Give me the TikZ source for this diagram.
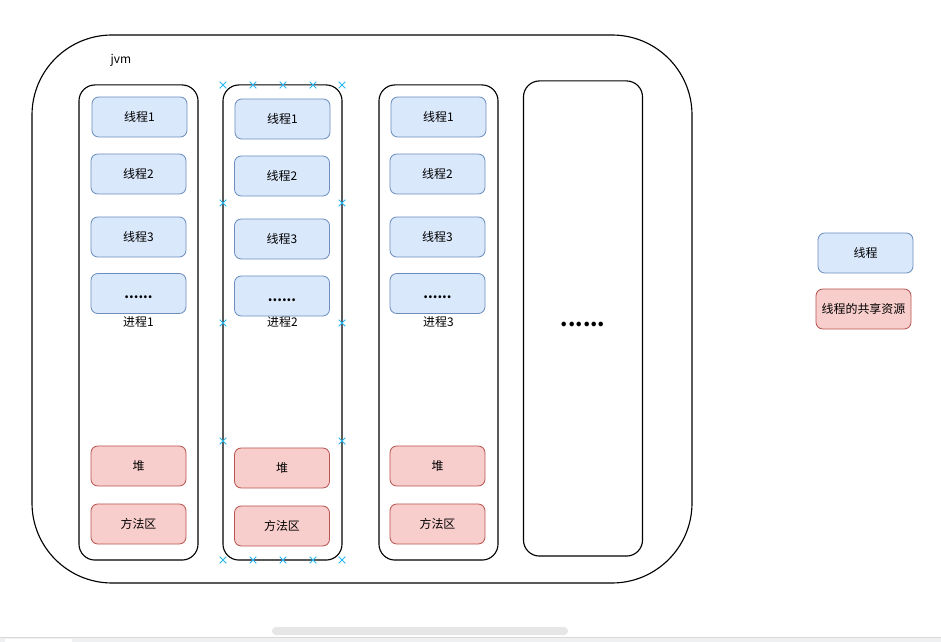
\documentclass[tikz,border=0pt]{standalone}
\usepackage{fontspec}
\setmainfont{Noto Sans CJK SC}
\usetikzlibrary{shapes.misc}
\definecolor{threadfill}{HTML}{DAE8FC}
\definecolor{threaddraw}{HTML}{6C8EBF}
\definecolor{sharedfill}{HTML}{F8CECC}
\definecolor{shareddraw}{HTML}{B85450}
\definecolor{handleblue}{HTML}{29B6F2}
\definecolor{barfill}{HTML}{E6E6E6}
\definecolor{stripfill}{HTML}{EEF0F1}
\newcommand{\moredots}{\vphantom{线}......}
\tikzset{
  label text/.style={font=\fontsize{8.5}{10}\selectfont},
  thread/.style={label text, draw=threaddraw, fill=threadfill, line width=0.6pt,
    rounded corners=0.17cm, minimum width=2.375cm, minimum height=1cm, inner sep=0pt},
  shared/.style={thread, draw=shareddraw, fill=sharedfill},
  proc/.style={label text, draw=black, line width=0.8pt, rounded corners=0.4cm,
    minimum width=2.975cm, minimum height=11.875cm, inner sep=0pt},
  handle/.style={cross out, draw=handleblue, line width=0.7pt, minimum size=0.14cm, inner sep=0pt},
  dots/.style={font=\fontsize{9.5}{10}\selectfont\bfseries},
}
\begin{document}
\begin{tikzpicture}[x=0.025cm, y=-0.025cm]
    \useasboundingbox (0,0) rectangle (941,642);
    % jvm
    \draw[black, line width=0.8pt, rounded corners=2cm] (32,35) rectangle (692,583);
    \node[label text] (jvm) at (121,60) {jvm};
    % process 1
    \node[proc] (p1) at (138.5,322.5) {进程1};
    \node[thread] (p1t1) at (139.5,117) {线程1};
    \node[thread] (p1t2) at (138.5,174) {线程2};
    \node[thread] (p1t3) at (138.5,237) {线程3};
    \node[thread, dots] (p1t4) at (138.5,293.5) {\moredots};
    \node[shared] (p1heap) at (138.5,466) {堆};
    \node[shared] (p1meth) at (138.5,524) {方法区};
    % process 2
    \node[proc] (p2) at (282.5,322.5) {进程2};
    \node[thread] (p2t1) at (282.5,119) {线程1};
    \node[thread] (p2t2) at (282,176) {线程2};
    \node[thread] (p2t3) at (282,239) {线程3};
    \node[thread, dots] (p2t4) at (282,296) {\moredots};
    \node[shared] (p2heap) at (282,468) {堆};
    \node[shared] (p2meth) at (282,526) {方法区};
    % process 3
    \node[proc] (p3) at (438.5,322.5) {进程3};
    \node[thread] (p3t1) at (438.5,117) {线程1};
    \node[thread] (p3t2) at (437.5,174) {线程2};
    \node[thread] (p3t3) at (437.5,237) {线程3};
    \node[thread, dots] (p3t4) at (437.5,293.5) {\moredots};
    \node[shared] (p3heap) at (437.5,466) {堆};
    \node[shared] (p3meth) at (437.5,524) {方法区};
    % more processes
    \node[proc, font=\fontsize{15}{16}\selectfont\bfseries] (p4) at (583,318.5) {\moredots};
    % legend
    \node[thread] (legthread) at (865.5,253) {线程};
    \node[shared] (legshared) at (863.5,309) {线程的共享资源};
    % selection handles
    \foreach \x in {223,253,283,313,342}
        \foreach \y in {85,560}
            \node[handle] (h-\x-\y) at (\x,\y) {};
    \foreach \x in {223,342}
        \foreach \y in {203,323,441}
            \node[handle] (h-\x-\y) at (\x,\y) {};
    % scroll bar
    \fill[barfill, rounded corners=0.1cm] (272,627) rectangle (568,635);
    \fill[stripfill] (0,637) rectangle (941,642);
    \fill[white] (5,638.5) rectangle (72,642);
    \draw[black!15, line width=0.3pt] (0,637) -- (941,637);
\end{tikzpicture}
\end{document}
